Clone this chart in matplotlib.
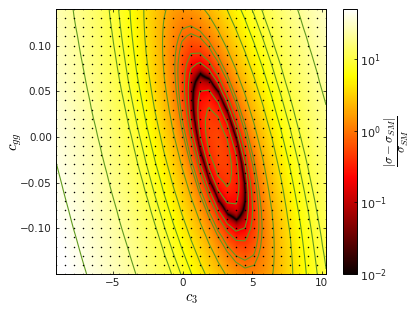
import matplotlib
matplotlib.use('Agg')
import matplotlib.pyplot as plt
from matplotlib.colors import LogNorm
import numpy as np

# grid of the dots in the picture
c3_values = [-9.10, -8.45, -7.81, -7.16, -6.51, -5.87, -5.22, -4.57, -3.93, -3.28, -2.63,
             -1.99, -1.34, -0.69, -0.05, 0.60, 1.25, 1.89, 2.54, 3.19, 3.83, 4.48,
             5.13, 5.77, 6.42, 7.07, 7.71, 8.36, 9.01, 9.65, 10.30]
cgg_values = [0.14, 0.13, 0.12, 0.11, 0.10, 0.09, 0.08, 0.07, 0.06, 0.05, 0.04, 0.03, 0.02, 0.01, 0.00,
              -0.01, -0.02, -0.03, -0.04, -0.05, -0.06, -0.07, -0.08, -0.09, -0.10, -0.11, -0.12,
              -0.13, -0.14, -0.15]

# (sigma - sigma_SM) / sigma_SM, estimated from the colours and contour crossings, sign kept
# so the zero ring stays sharp. one row per cgg value, top row first
ratio = [
    [26.0, 22.7, 19.7, 16.8, 14.2, 11.9, 9.8, 7.9, 6.3, 4.9, 3.7, 2.8, 2.1, 1.68, 1.47, 1.51, 1.78, 2.29, 3.04, 4.03, 5.25, 6.72, 8.43, 10.3, 12.5, 15.0, 17.6, 20.5, 23.7, 27.0, 30.6],
    [26.6, 23.2, 20.1, 17.2, 14.6, 12.2, 10.0, 8.08, 6.4, 4.94, 3.71, 2.75, 2.0, 1.5, 1.24, 1.22, 1.43, 1.88, 2.57, 3.51, 4.67, 6.08, 7.73, 9.6, 11.7, 14.1, 16.7, 19.5, 22.6, 25.9, 29.5],
    [27.2, 23.8, 20.6, 17.7, 15.0, 12.5, 10.3, 8.28, 6.55, 5.03, 3.75, 2.72, 1.92, 1.36, 1.04, 0.96, 1.12, 1.51, 2.14, 3.02, 4.12, 5.47, 7.07, 8.87, 10.9, 13.3, 15.8, 18.6, 21.6, 24.8, 28.3],
    [27.9, 24.4, 21.2, 18.2, 15.4, 12.9, 10.6, 8.52, 6.73, 5.15, 3.81, 2.73, 1.87, 1.25, 0.87, 0.73, 0.83, 1.16, 1.74, 2.56, 3.6, 4.89, 6.43, 8.18, 10.2, 12.5, 14.9, 17.6, 20.6, 23.8, 27.2],
    [28.5, 25.0, 21.7, 18.7, 15.8, 13.3, 10.9, 8.79, 6.94, 5.31, 3.91, 2.77, 1.85, 1.17, 0.74, 0.54, 0.58, 0.85, 1.37, 2.13, 3.11, 4.35, 5.83, 7.52, 9.47, 11.7, 14.1, 16.7, 19.7, 22.8, 26.2],
    [29.3, 25.6, 22.3, 19.2, 16.3, 13.7, 11.3, 9.1, 7.19, 5.49, 4.04, 2.84, 1.86, 1.13, 0.64, 0.38, 0.36, 0.58, 1.04, 1.74, 2.66, 3.84, 5.26, 6.89, 8.79, 10.9, 13.3, 15.9, 18.7, 21.8, 25.1],
    [30.0, 26.3, 23.0, 19.8, 16.8, 14.1, 11.7, 9.43, 7.47, 5.71, 4.2, 2.94, 1.91, 1.11, 0.56, 0.25, 0.17, 0.33, 0.73, 1.37, 2.24, 3.36, 4.72, 6.3, 8.14, 10.2, 12.5, 15.1, 17.9, 20.8, 24.1],
    [30.8, 27.1, 23.6, 20.4, 17.4, 14.6, 12.1, 9.8, 7.78, 5.96, 4.39, 3.08, 1.98, 1.13, 0.52, 0.15, 0.013, 0.116, 0.46, 1.04, 1.85, 2.91, 4.21, 5.73, 7.51, 9.53, 11.8, 14.3, 17.0, 19.9, 23.2],
    [31.6, 27.8, 24.3, 21.0, 17.9, 15.1, 12.5, 10.2, 8.12, 6.25, 4.62, 3.25, 2.09, 1.18, 0.52, 0.083, -0.11, -0.066, 0.218, 0.74, 1.5, 2.5, 3.74, 5.2, 6.92, 8.89, 11.1, 13.5, 16.2, 19.1, 22.2],
    [32.4, 28.6, 25.0, 21.7, 18.5, 15.7, 13.0, 10.6, 8.49, 6.56, 4.87, 3.45, 2.23, 1.26, 0.54, 0.05, -0.20, -0.22, 0.01, 0.48, 1.17, 2.11, 3.3, 4.7, 6.36, 8.27, 10.4, 12.8, 15.4, 18.2, 21.3],
    [33.3, 29.4, 25.8, 22.4, 19.2, 16.3, 13.6, 11.1, 8.9, 6.91, 5.16, 3.68, 2.41, 1.38, 0.6, 0.05, -0.26, -0.33, -0.17, 0.24, 0.88, 1.76, 2.89, 4.23, 5.84, 7.68, 9.74, 12.1, 14.6, 17.4, 20.4],
    [34.2, 30.2, 26.6, 23.1, 19.8, 16.9, 14.1, 11.6, 9.34, 7.29, 5.49, 3.94, 2.61, 1.52, 0.69, 0.08, -0.29, -0.42, -0.31, 0.04, 0.62, 1.44, 2.51, 3.8, 5.35, 7.13, 9.13, 11.4, 13.9, 16.6, 19.6],
    [35.1, 31.1, 27.4, 23.8, 20.5, 17.5, 14.7, 12.1, 9.81, 7.71, 5.84, 4.24, 2.85, 1.71, 0.81, 0.14, -0.29, -0.47, -0.42, -0.13, 0.39, 1.16, 2.17, 3.4, 4.89, 6.62, 8.55, 10.8, 13.2, 15.8, 18.8],
    [36.1, 32.0, 28.2, 24.6, 21.3, 18.2, 15.3, 12.7, 10.3, 8.15, 6.22, 4.56, 3.12, 1.91, 0.96, 0.23, -0.25, -0.50, -0.50, -0.27, 0.19, 0.90, 1.85, 3.03, 4.45, 6.12, 8.0, 10.2, 12.5, 15.1, 18.0],
    [37.1, 33.0, 29.1, 25.5, 22.0, 18.9, 16.0, 13.3, 10.9, 8.62, 6.64, 4.92, 3.42, 2.15, 1.15, 0.36, -0.19, -0.49, -0.55, -0.38, 0.03, 0.68, 1.57, 2.68, 4.05, 5.67, 7.49, 9.58, 11.9, 14.4, 17.2],
    [38.1, 33.9, 30.0, 26.3, 22.8, 19.7, 16.7, 13.9, 11.4, 9.13, 7.09, 5.31, 3.75, 2.43, 1.36, 0.52, -0.09, -0.44, -0.57, -0.46, -0.11, 0.49, 1.32, 2.38, 3.69, 5.24, 7.01, 9.04, 11.3, 13.8, 16.5],
    [39.2, 34.9, 31.0, 27.2, 23.7, 20.4, 17.4, 14.5, 12.0, 9.67, 7.57, 5.74, 4.12, 2.74, 1.61, 0.71, 0.05, -0.37, -0.56, -0.50, -0.21, 0.33, 1.11, 2.11, 3.36, 4.85, 6.56, 8.53, 10.7, 13.2, 15.8],
    [40.3, 36.0, 32.0, 28.1, 24.5, 21.2, 18.1, 15.2, 12.6, 10.2, 8.08, 6.19, 4.51, 3.07, 1.89, 0.93, 0.21, -0.26, -0.51, -0.51, -0.28, 0.20, 0.92, 1.86, 3.05, 4.49, 6.14, 8.05, 10.2, 12.6, 15.2],
    [41.4, 37.1, 33.0, 29.1, 25.4, 22.1, 18.9, 16.0, 13.3, 10.8, 8.63, 6.69, 4.95, 3.45, 2.21, 1.19, 0.41, -0.13, -0.43, -0.49, -0.31, 0.11, 0.77, 1.65, 2.79, 4.17, 5.76, 7.61, 9.71, 12.0, 14.6],
    [42.6, 38.2, 34.0, 30.1, 26.4, 22.9, 19.7, 16.7, 14.0, 11.5, 9.2, 7.2, 5.41, 3.85, 2.55, 1.47, 0.63, 0.04, -0.32, -0.44, -0.32, 0.04, 0.64, 1.47, 2.55, 3.87, 5.4, 7.2, 9.23, 11.5, 14.0],
    [43.8, 39.3, 35.1, 31.1, 27.3, 23.8, 20.5, 17.5, 14.7, 12.1, 9.81, 7.75, 5.89, 4.28, 2.92, 1.79, 0.89, 0.25, -0.17, -0.35, -0.29, 0.01, 0.55, 1.32, 2.34, 3.6, 5.07, 6.81, 8.79, 11.0, 13.4],
    [45.0, 40.5, 36.2, 32.1, 28.3, 24.8, 21.4, 18.3, 15.5, 12.9, 10.5, 8.34, 6.42, 4.75, 3.34, 2.14, 1.19, 0.48, 0.004, -0.23, -0.23, 0.01, 0.50, 1.21, 2.17, 3.37, 4.79, 6.47, 8.39, 10.5, 12.9],
    [46.3, 41.7, 37.4, 33.2, 29.3, 25.7, 22.3, 19.2, 16.3, 13.6, 11.1, 8.95, 6.98, 5.24, 3.77, 2.52, 1.51, 0.75, 0.21, -0.084, -0.139, 0.045, 0.47, 1.12, 2.02, 3.16, 4.52, 6.15, 8.01, 10.1, 12.4],
    [47.5, 42.9, 38.5, 34.3, 30.4, 26.7, 23.3, 20.0, 17.1, 14.3, 11.8, 9.6, 7.57, 5.78, 4.25, 2.94, 1.87, 1.05, 0.45, 0.097, -0.015, 0.11, 0.475, 1.08, 1.92, 3.0, 4.31, 5.87, 7.67, 9.68, 12.0],
    [48.9, 44.1, 39.7, 35.5, 31.5, 27.8, 24.2, 20.9, 17.9, 15.1, 12.6, 10.3, 8.18, 6.33, 4.75, 3.38, 2.25, 1.37, 0.72, 0.31, 0.14, 0.21, 0.51, 1.05, 1.83, 2.86, 4.1, 5.61, 7.35, 9.31, 11.5],
    [50.2, 45.4, 41.0, 36.7, 32.6, 28.8, 25.2, 21.9, 18.8, 16.0, 13.3, 11.0, 8.84, 6.93, 5.29, 3.86, 2.67, 1.74, 1.03, 0.56, 0.33, 0.34, 0.59, 1.07, 1.79, 2.76, 3.94, 5.39, 7.08, 8.97, 11.1],
    [51.6, 46.8, 42.2, 37.9, 33.7, 29.9, 26.3, 22.9, 19.8, 16.8, 14.1, 11.7, 9.53, 7.56, 5.86, 4.37, 3.13, 2.13, 1.36, 0.83, 0.55, 0.50, 0.69, 1.11, 1.78, 2.69, 3.82, 5.21, 6.83, 8.67, 10.8],
    [53.0, 48.1, 43.5, 39.1, 34.9, 31.0, 27.3, 23.9, 20.7, 17.7, 15.0, 12.5, 10.2, 8.22, 6.46, 4.91, 3.61, 2.56, 1.73, 1.14, 0.80, 0.69, 0.82, 1.19, 1.8, 2.65, 3.72, 5.05, 6.62, 8.4, 10.4],
    [54.5, 49.5, 44.9, 40.4, 36.1, 32.2, 28.4, 24.9, 21.7, 18.6, 15.8, 13.3, 11.0, 8.91, 7.09, 5.49, 4.12, 3.02, 2.13, 1.48, 1.08, 0.91, 0.99, 1.29, 1.85, 2.64, 3.65, 4.92, 6.43, 8.16, 10.1],
    [56.0, 50.9, 46.2, 41.7, 37.4, 33.4, 29.6, 26.0, 22.7, 19.6, 16.7, 14.2, 11.8, 9.63, 7.76, 6.1, 4.67, 3.51, 2.56, 1.86, 1.4, 1.17, 1.19, 1.44, 1.93, 2.66, 3.62, 4.83, 6.28, 7.95, 9.88],
]

contour_levels = [0.2, 0.4, 0.8, 1, 2, 4, 6, 8, 10, 20, 40]
xticks = [-5, 0, 5, 10]
yticks = [-0.10, -0.05, 0.00, 0.05, 0.10]

c3 = np.array(c3_values)
cgg = np.array(cgg_values)[::-1]
data = np.array(ratio)[::-1]

# resample the signed table before taking abs, otherwise the ring falls apart
fine_c3 = np.linspace(c3[0], c3[-1], 400)
fine_cgg = np.linspace(cgg[0], cgg[-1], 400)
fine = np.array([np.interp(fine_c3, c3, row) for row in data])
fine = np.array([np.interp(fine_cgg, cgg, col) for col in fine.T]).T

fig = plt.figure(figsize=(4.15, 3.12), dpi=100)
ax = fig.add_axes([56 / 415, 1 - 274 / 312, 270 / 415, 265 / 312])
im = ax.imshow(np.abs(fine), origin='lower', aspect='auto', cmap='hot',
               norm=LogNorm(vmin=0.01, vmax=50), interpolation='bilinear',
               extent=[c3[0], c3[-1], cgg[0], cgg[-1]])

# contours of the absolute value, both sides of the ring
signed_levels = sorted([-l for l in contour_levels[:2]] + contour_levels)
ax.contour(c3, cgg, data, levels=signed_levels, colors='#5f9a20', linewidths=0.8,
           linestyles='solid')
grid_x, grid_y = np.meshgrid(c3, cgg)
ax.plot(grid_x.ravel(), grid_y.ravel(), ls='none', marker='o', ms=1.1, color='black', mew=0)

ax.set_xlim(c3[0], c3[-1])
ax.set_ylim(cgg[0], cgg[-1])
ax.set_xticks(xticks)
ax.set_yticks(yticks)
ax.set_yticklabels(['\u22120.10', '\u22120.05', '0.00', '0.05', '0.10'])
ax.tick_params(direction='in', top=True, right=True, length=2.5, width=0.5, labelsize=7.5, pad=3, labelcolor='#222222')
ax.set_xlabel(r'$c_3$', fontsize=10.5, math_fontfamily='cm')
ax.set_ylabel(r'$c_{gg}$', fontsize=11, math_fontfamily='cm')
ax.xaxis.set_label_coords(0.5, -0.065)
ax.yaxis.set_label_coords(-0.12, 0.5)
for spine in ax.spines.values():
    spine.set_linewidth(0.7)

cax = fig.add_axes([343 / 415, 1 - 274 / 312, 14 / 415, 265 / 312])
cbar = fig.colorbar(im, cax=cax)
cbar.minorticks_off()
cbar.set_ticks([0.01, 0.1, 1, 10])
cbar.ax.tick_params(direction='in', length=2.5, width=0.5, labelsize=8, pad=2.5, labelcolor='#222222')
cbar.outline.set_linewidth(0.7)
cbar.set_label(r'$\dfrac{|\sigma-\sigma_{SM}|}{\sigma_{SM}}$', fontsize=9, math_fontfamily='cm', labelpad=-3)

fig.savefig('out.png', dpi=100)
